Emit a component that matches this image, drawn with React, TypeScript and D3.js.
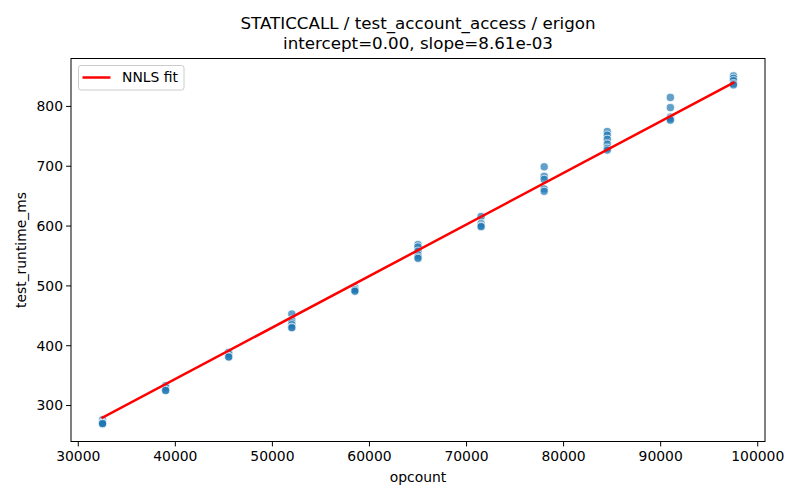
import React from "react";
import * as d3 from "d3";

const opcounts = [32500, 39000, 45500, 52000, 58500, 65000, 71500, 78000, 84500, 91000, 97500];
const runtimes: number[][] = [
  [276, 272, 270, 269, 270],
  [333, 330, 326, 325],
  [389, 386, 382, 381],
  [453, 443, 438, 435, 431, 430],
  [497, 494, 493, 491],
  [569, 565, 558, 552, 548, 546],
  [616, 604, 600, 599],
  [699, 683, 678, 662, 658],
  [758, 752, 745, 737, 730, 727],
  [815, 798, 782, 779, 777],
  [851, 847, 843, 838, 836],
];
const intercept = 0.0;
const slope = 8.61e-3;
const xTicks = [30000, 40000, 50000, 60000, 70000, 80000, 90000, 100000];
const yTicks = [300, 400, 500, 600, 700, 800];
const titleLines = ["STATICCALL / test_account_access / erigon", "intercept=0.00, slope=8.61e-03"];
const xLabel = "opcount";
const yLabel = "test_runtime_ms";
const legendLabel = "NNLS fit";

export default function App() {
  const W = 800, H = 500;
  const left = 71, right = 765, top = 58.5, bottom = 441.5;
  const points = opcounts.flatMap((x, i) => runtimes[i].map((y) => ({ x, y })));
  const [x0, x1] = d3.extent(opcounts) as [number, number];
  const allY = points.map((p) => p.y);
  const y0 = d3.min(allY)!, y1 = d3.max(allY)!;
  const xm = (x1 - x0) * 0.05, ym = (y1 - y0) * 0.05;
  const xs = d3.scaleLinear().domain([x0 - xm, x1 + xm]).range([left, right]);
  const ys = d3.scaleLinear().domain([y0 - ym, y1 + ym]).range([bottom, top]);
  const fitX = [x0, x1];
  const line = d3.line<number>().x((d) => xs(d)).y((d) => ys(intercept + slope * d));
  const font = "DejaVu Sans, sans-serif";
  return (
    <svg width={W} height={H} style={{ position: "absolute", left: 0, top: 0, background: "#fff" }} fontFamily={font}>
      <rect x={0} y={0} width={W} height={H} fill="#fff" />
      {points.map((p, i) => (
        <circle key={i} cx={xs(p.x)} cy={ys(p.y)} r={4.1} fill="#1f77b4" fillOpacity={0.7} stroke="#fff" strokeOpacity={0.7} strokeWidth={1} />
      ))}
      <path d={line(fitX) || ""} stroke="#ff0000" strokeWidth={2.5} fill="none" strokeLinecap="square" />
      <rect x={left} y={top} width={right - left} height={bottom - top} fill="none" stroke="#000" strokeWidth={1} />
      {xTicks.map((t) => (
        <g key={t} transform={`translate(${xs(t)},${bottom})`}>
          <line y2={4.9} stroke="#000" strokeWidth={1} />
          <text y={19} textAnchor="middle" fontSize={13.9} fill="#000">{t}</text>
        </g>
      ))}
      {yTicks.map((t) => (
        <g key={t} transform={`translate(${left},${ys(t)})`}>
          <line x2={-4.9} stroke="#000" strokeWidth={1} />
          <text x={-8} dy="0.35em" textAnchor="end" fontSize={13.9} fill="#000">{t}</text>
        </g>
      ))}
      <text x={(left + right) / 2} y={482} textAnchor="middle" fontSize={13.9}>{xLabel}</text>
      <text transform={`translate(26,${(top + bottom) / 2}) rotate(-90)`} textAnchor="middle" fontSize={13.9}>{yLabel}</text>
      {titleLines.map((s, i) => (
        <text key={i} x={(left + right) / 2} y={29 + i * 20} textAnchor="middle" fontSize={16.7}>{s}</text>
      ))}
      <g>
        <rect x={78.5} y={65.5} width={105.5} height={24.5} rx={2.5} fill="#fff" fillOpacity={0.8} stroke="#cccccc" strokeWidth={1} />
        <line x1={82.5} x2={110.5} y1={77.5} y2={77.5} stroke="#ff0000" strokeWidth={2.5} />
        <text x={122} y={77.5} dy="0.35em" fontSize={13.9}>{legendLabel}</text>
      </g>
    </svg>
  );
}
